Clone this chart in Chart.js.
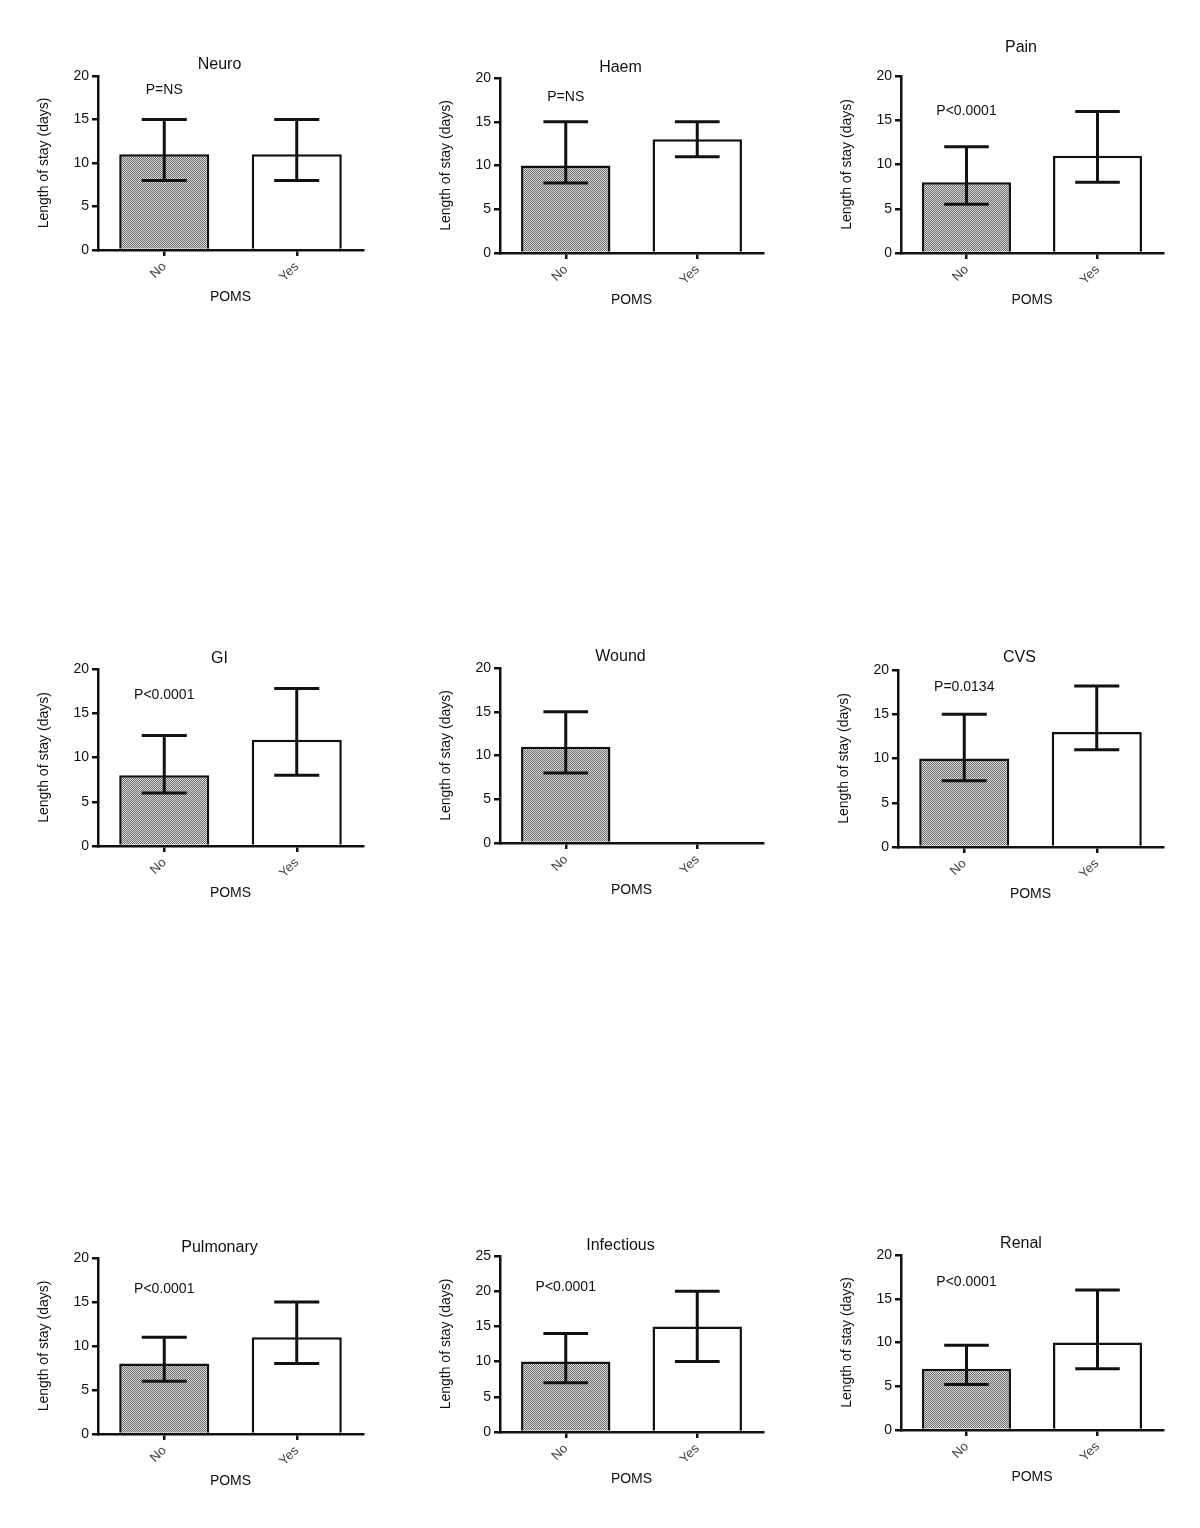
<!DOCTYPE html>
<html>
<head>
<title>Length of stay by POMS</title>
<script src="https://cdn.jsdelivr.net/npm/chart.js@4/dist/chart.umd.min.js"></script>
<style>
    body { margin: 0; background: #fff; width: 1200px; height: 1528px; position: relative; overflow: hidden; }
    canvas { position: absolute; }
</style>
</head>
<body>
<script>
    var groups = ['No', 'Yes'];
    var panelTitles = ['Neuro', 'Haem', 'Pain', 'GI', 'Wound', 'CVS', 'Pulmonary', 'Infectious', 'Renal'];
    var meanNo  = [11, 10, 8, 8, 11, 10, 8, 10, 7];
    var meanYes = [11, 13, 11, 12, null, 13, 11, 15, 10];
    var lowNo   = [8, 8, 5.5, 6, 8, 7.5, 6, 7, 5.2];
    var highNo  = [15, 15, 12, 12.5, 15, 15, 11, 14, 9.7];
    var lowYes  = [8, 11, 8, 8, null, 11, 8, 10, 7];
    var highYes = [15, 15, 16, 17.8, null, 18.2, 15, 20, 16];
    var pValues = ['P=NS', 'P=NS', 'P<0.0001', 'P<0.0001', '', 'P=0.0134', 'P<0.0001', 'P<0.0001', 'P<0.0001'];
    var pLabelY = [18.4, 17.8, 16, 17, null, 18.1, 16.5, 20.6, 16.9];
    var yMax    = [20, 20, 20, 20, 20, 20, 20, 25, 20];

    // plot area of each panel on the page: left, top, right, bottom
    var boxes = [
        [98, 76, 363, 250], [500, 78, 763, 253], [901, 76, 1163, 253],
        [98, 669, 363, 846], [500, 668, 763, 843], [898, 670, 1163, 847],
        [98, 1258, 363, 1434], [500, 1256, 763, 1432], [901, 1255, 1163, 1430]
    ];
    var titleGap = [11, 10, 28, 10, 11, 12, 10, 10, 11];

    var FONT = '"Liberation Sans", Arial, sans-serif';
    Chart.defaults.font.family = FONT;

    var Y_W = 98, PAD_TOP = 60, PAD_RIGHT = 37, X_H = 60;

    function dotPattern(ctx) {
        var c = document.createElement('canvas');
        c.width = 2; c.height = 2;
        var g = c.getContext('2d');
        g.fillStyle = '#dcdcdc';
        g.fillRect(0, 0, 2, 2);
        g.fillStyle = '#6a6a6a';
        g.fillRect(0, 0, 1, 1);
        g.fillRect(1, 1, 1, 1);
        return ctx.createPattern(c, 'repeat');
    }

    // error bars, p value and panel title
    var extras = {
        id: 'extras',
        afterDatasetsDraw: function(chart, args, opts) {
            var ctx = chart.ctx, xs = chart.scales.x, ys = chart.scales.y;
            var area = chart.chartArea;
            var bars = chart.getDatasetMeta(0).data;
            ctx.save();
            ctx.strokeStyle = '#111';
            ctx.lineWidth = 3;
            for (var i = 0; i < opts.low.length; i++) {
                if (opts.low[i] == null) continue;
                var cx = xs.getPixelForValue(i);
                var half = bars[i].width / 4;
                var y1 = ys.getPixelForValue(opts.low[i]);
                var y2 = ys.getPixelForValue(opts.high[i]);
                ctx.beginPath();
                ctx.moveTo(cx, y1); ctx.lineTo(cx, y2);
                ctx.moveTo(cx - half, y1); ctx.lineTo(cx + half, y1);
                ctx.moveTo(cx - half, y2); ctx.lineTo(cx + half, y2);
                ctx.stroke();
            }
            ctx.fillStyle = '#111';
            ctx.textAlign = 'center';
            ctx.textBaseline = 'middle';
            if (opts.pText) {
                ctx.font = '14px ' + FONT;
                ctx.fillText(opts.pText, xs.getPixelForValue(0), ys.getPixelForValue(opts.pY));
            }
            ctx.font = '16px ' + FONT;
            ctx.fillText(opts.title, (area.left + area.right) / 2 - 11, area.top - opts.gap);
            ctx.restore();
        }
    };

    boxes.forEach(function(b, i) {
        var canvas = document.createElement('canvas');
        canvas.width = (b[2] - b[0]) + Y_W + PAD_RIGHT;
        canvas.height = PAD_TOP + (b[3] - b[1]) + X_H;
        canvas.style.left = (b[0] - Y_W) + 'px';
        canvas.style.top = (b[1] - PAD_TOP) + 'px';
        document.body.appendChild(canvas);
        var ctx = canvas.getContext('2d');

        new Chart(canvas, {
            type: 'bar',
            data: {
                labels: groups,
                datasets: [{
                    data: [meanNo[i], meanYes[i]],
                    backgroundColor: [dotPattern(ctx), '#ffffff'],
                    borderColor: '#111',
                    borderWidth: 2.5,
                    barPercentage: 0.68,
                    categoryPercentage: 1
                }]
            },
            options: {
                responsive: false,
                animation: false,
                devicePixelRatio: 1,
                layout: { padding: { left: 0, top: PAD_TOP, right: PAD_RIGHT, bottom: 0 } },
                plugins: {
                    legend: { display: false },
                    tooltip: { enabled: false },
                    extras: {
                        low: [lowNo[i], lowYes[i]],
                        high: [highNo[i], highYes[i]],
                        pText: pValues[i],
                        pY: pLabelY[i],
                        title: panelTitles[i],
                        gap: titleGap[i]
                    }
                },
                scales: {
                    x: {
                        offset: true,
                        grid: { drawOnChartArea: false, offset: false, tickLength: 6, color: '#111', lineWidth: 2.5 },
                        border: { display: true, color: '#111', width: 2.5 },
                        ticks: { color: '#444', font: { size: 13 }, minRotation: 45, maxRotation: 45, padding: 3 },
                        title: { display: true, text: 'POMS', color: '#111', font: { size: 14 }, padding: { top: 0, bottom: 4 } },
                        afterFit: function(s) { s.height = X_H; }
                    },
                    y: {
                        min: 0,
                        max: yMax[i],
                        grid: { drawOnChartArea: false, tickLength: 6, color: '#111', lineWidth: 2.5 },
                        border: { display: true, color: '#111', width: 2.5 },
                        ticks: { stepSize: 5, color: '#111', font: { size: 14 }, padding: 3 },
                        title: { display: true, text: 'Length of stay (days)', color: '#111', font: { size: 14 }, padding: { top: 36, bottom: 0 } },
                        afterFit: function(s) { s.width = Y_W; }
                    }
                }
            },
            plugins: [extras]
        });
    });
</script>
</body>
</html>
